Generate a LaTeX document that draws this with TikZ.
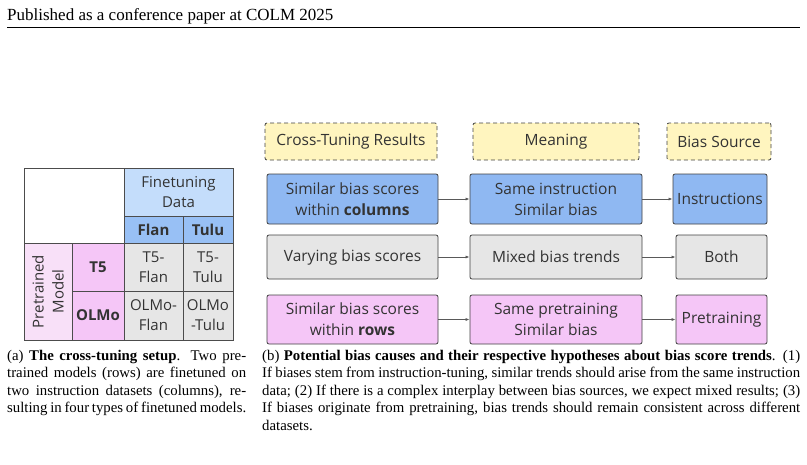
\documentclass[tikz,border=0pt]{standalone}
\usepackage{fontspec}
\setmainfont{Liberation Serif}
\newfontfamily\sansf{Open Sans}
\usetikzlibrary{arrows.meta}
\definecolor{bblue}{HTML}{8FB8F2}
\definecolor{lblue}{HTML}{C4DDFB}
\definecolor{mblue}{HTML}{98C0F5}
\definecolor{bgray}{HTML}{E6E6E6}
\definecolor{bpink}{HTML}{F5C6F7}
\definecolor{lpink}{HTML}{F8E0F8}
\definecolor{byell}{HTML}{FFF5BF}
\definecolor{txt}{HTML}{333333}
\tikzset{
  box/.style={draw=black!75,line width=0.8pt,rounded corners=2pt,font=\sansf\fontsize{15.5}{21}\selectfont,text=txt,align=center,inner sep=0pt},
  hdr/.style={box,fill=byell,dashed,dash pattern=on 4pt off 3pt},
  cell/.style={draw=black!70,line width=0.7pt,font=\sansf\fontsize{15}{20}\selectfont,text=txt,align=center,inner sep=0pt},
  arr/.style={-{Latex[length=4pt,width=3pt]},draw=black!65,line width=0.7pt},
  captext/.style={anchor=north west,inner sep=0pt,align=justify,font=\fontsize{14.8}{17.4}\selectfont}
}
\newcommand{\bx}[6]{\node[#1,minimum width=#4-#2,minimum height=#5-#3] (#6) at ({(#2+#4)/2},{(#3+#5)/2}) {};}
\begin{document}
\begin{tikzpicture}[x=1pt,y=-1pt]
\useasboundingbox (0,0) rectangle (807,464);
\node[anchor=base west,inner sep=0pt,font=\fontsize{17}{20}\selectfont] (title) at (7,20) {Published as a conference paper at COLM 2025};
\draw[line width=1.6pt] (7,27.5) -- (800,27.5);
% table
\bx{cell,fill=lblue}{124}{168}{233}{216}{fd}
\node[cell,draw=none] at (fd) {Finetuning\\Data};
\bx{cell,fill=white}{24}{168}{124}{243}{corner}
\bx{cell,fill=mblue}{124}{216}{183}{243}{flan}
\node[cell,draw=none] at (flan) {\bfseries Flan};
\bx{cell,fill=mblue}{183}{216}{233}{243}{tulu}
\node[cell,draw=none] at (tulu) {\bfseries Tulu};
\bx{cell,fill=lpink}{24}{243}{72}{340}{pm}
\node[cell,draw=none,rotate=90] at (pm) {Pretrained\\Model};
\bx{cell,fill=bpink}{72}{243}{124}{291}{t5}
\node[cell,draw=none] at (t5) {\bfseries T5};
\bx{cell,fill=bpink}{72}{291}{124}{340}{olmo}
\node[cell,draw=none] at (olmo) {\bfseries OLMo};
\bx{cell,fill=bgray}{124}{243}{183}{291}{c11}
\node[cell,draw=none] at (c11) {T5-\\Flan};
\bx{cell,fill=bgray}{183}{243}{233}{291}{c12}
\node[cell,draw=none] at (c12) {T5-\\Tulu};
\bx{cell,fill=bgray}{124}{291}{183}{340}{c21}
\node[cell,draw=none] at (c21) {OLMo-\\Flan};
\bx{cell,fill=bgray}{183}{291}{233}{340}{c22}
\node[cell,draw=none] at (c22) {OLMo\\-Tulu};
% headers
\bx{hdr}{265}{123}{437}{160}{h1}\node[box,draw=none] at (h1) {Cross-Tuning Results};
\bx{hdr}{473}{123}{639}{160}{h2}\node[box,draw=none] at (h2) {Meaning};
\bx{hdr}{667}{123}{771}{160}{h3}\node[box,draw=none] at (h3) {Bias Source};
% rows
\bx{box,fill=bblue}{267}{174}{438}{224}{a1}\node[box,draw=none] at (a1) {Similar bias scores\\within \textbf{columns}};
\bx{box,fill=bblue}{470}{174}{642}{224}{b1}\node[box,draw=none] at (b1) {Same instruction\\Similar bias};
\bx{box,fill=bblue}{673}{174}{767}{224}{c1}\node[box,draw=none] at (c1) {Instructions};
\bx{box,fill=bgray}{267}{235}{438}{279}{a2}\node[box,draw=none] at (a2) {Varying bias scores};
\bx{box,fill=bgray}{470}{235}{642}{279}{b2}\node[box,draw=none] at (b2) {Mixed bias trends};
\bx{box,fill=bgray}{676}{235}{767}{279}{c2}\node[box,draw=none] at (c2) {Both};
\bx{box,fill=bpink}{267}{295}{438}{344}{a3}\node[box,draw=none] at (a3) {Similar bias scores\\within \textbf{rows}};
\bx{box,fill=bpink}{470}{295}{642}{344}{b3}\node[box,draw=none] at (b3) {Same pretraining\\Similar bias};
\bx{box,fill=bpink}{676}{295}{767}{344}{c3}\node[box,draw=none] at (c3) {Pretraining};
\foreach \r in {1,2,3}{
  \draw[arr] (a\r.east) -- (b\r.west);
  \draw[arr] (b\r.east) -- (c\r.west);
}
% captions
\node[captext,text width=239pt] (capa) at (7,350) {(a) \textbf{The cross-tuning setup}. Two pretrained models (rows) are fine\-tuned on two instruction datasets (columns), resulting in four types of finetuned models.};
\node[captext,text width=538pt] (capb) at (262,350) {(b) \textbf{Potential bias causes and their respective hypotheses about bias score trends}. (1) If biases stem from instruction-tuning, similar trends should arise from the same instruction data; (2) If there is a complex interplay between bias sources, we expect mixed results; (3) If biases originate from pretraining, bias trends should remain consistent across different datasets.};
\end{tikzpicture}
\end{document}
